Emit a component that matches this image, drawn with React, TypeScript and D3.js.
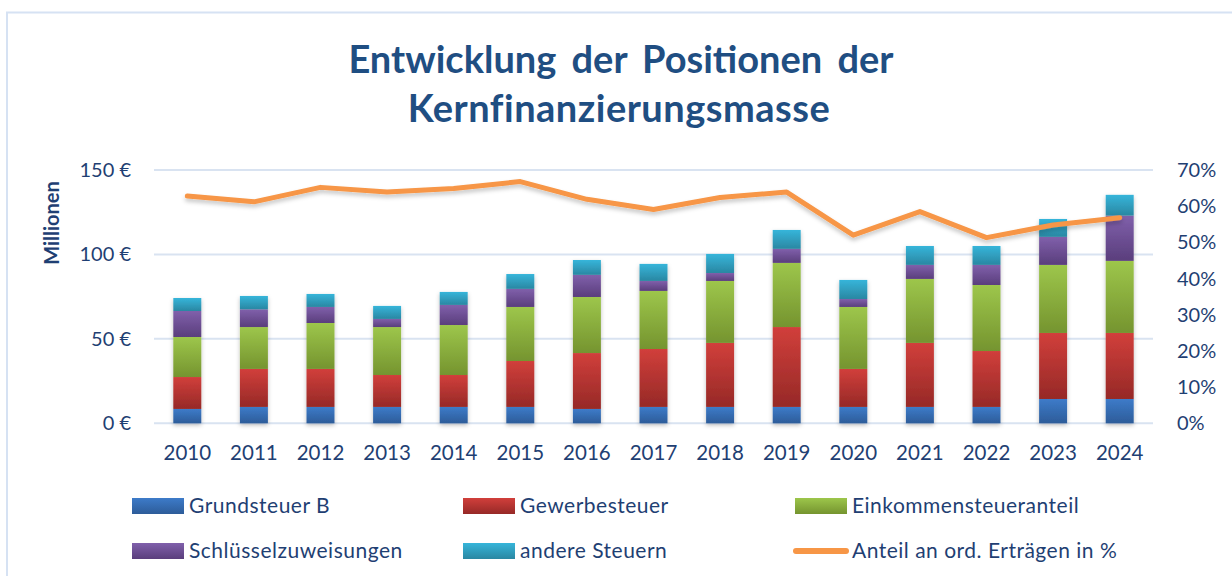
import React from "react";
import * as d3 from "d3";

const years = ["2010","2011","2012","2013","2014","2015","2016","2017","2018","2019","2020","2021","2022","2023","2024"];
const grundsteuerB = [8.5, 9.7, 9.7, 9.7, 9.7, 9.7, 8.5, 9.7, 9.7, 9.7, 9.7, 9.7, 9.7, 14.4, 14.4];
const gewerbesteuer = [18.9, 22.5, 22.5, 18.9, 18.9, 27.2, 33.1, 34.3, 37.9, 47.3, 22.5, 37.9, 33.1, 39.1, 39.1];
const einkommensteuer = [23.7, 24.8, 27.2, 28.4, 29.6, 32.0, 33.2, 34.4, 36.7, 38.0, 36.7, 37.9, 39.1, 40.3, 42.7];
const schluessel = [15.4, 10.5, 9.5, 4.8, 11.9, 10.7, 13.1, 5.9, 4.7, 8.3, 4.7, 8.3, 11.9, 16.6, 26.8];
const andere = [7.7, 7.9, 7.7, 7.7, 7.7, 8.8, 8.8, 10.1, 11.3, 11.2, 11.3, 11.2, 11.2, 10.6, 12.3];
const anteil = [0.628, 0.612, 0.652, 0.639, 0.649, 0.668, 0.619, 0.591, 0.624, 0.639, 0.520, 0.585, 0.513, 0.548, 0.568];

const leftTicks = [0, 50, 100, 150];
const rightTicks = [0, 0.1, 0.2, 0.3, 0.4, 0.5, 0.6, 0.7];

const seriesNames = ["Grundsteuer B", "Gewerbesteuer", "Einkommensteueranteil", "Schlüsselzuweisungen", "andere Steuern"];
const seriesData = [grundsteuerB, gewerbesteuer, einkommensteuer, schluessel, andere];
const seriesColors = [
  ["#3D7BC9", "#2D5C99"],
  ["#D13F3B", "#962927"],
  ["#9DC64B", "#75942F"],
  ["#8060AB", "#5A3E7C"],
  ["#36B5DA", "#2A87A2"],
];
const lineName = "Anteil an ord. Erträgen in %";
const lineColor = "#F79646";
const textColor = "#1F3F73";
const titleColor = "#1F4E82";
const gridColor = "#D9E3F1";
const font = "Lato, 'Open Sans', sans-serif";

export default function App() {
  const W = 1232, H = 576;
  const x = d3.scaleBand<string>().domain(years).range([154, 1153]).padding(0);
  const y = d3.scaleLinear().domain([0, 150]).range([423.3, 170]);
  const y2 = d3.scaleLinear().domain([0, 0.7]).range([423.3, 170]);
  const barW = x.bandwidth() * 0.42;

  const stackInput = years.map((yr, i) => {
    const o: any = { year: yr };
    seriesNames.forEach((n, k) => (o[n] = seriesData[k][i]));
    return o;
  });
  const stacked = d3.stack<any>().keys(seriesNames)(stackInput);

  const line = d3
    .line<number>()
    .x((_, i) => (x(years[i]) as number) + x.bandwidth() / 2)
    .y((d) => y2(d));

  const legendRows = [
    [
      { kind: "rect", idx: 0, x: 132, tx: 189 },
      { kind: "rect", idx: 1, x: 463, tx: 520 },
      { kind: "rect", idx: 2, x: 795, tx: 852 },
    ],
    [
      { kind: "rect", idx: 3, x: 132, tx: 189 },
      { kind: "rect", idx: 4, x: 463, tx: 520 },
      { kind: "line", idx: 5, x: 794, tx: 852 },
    ],
  ];
  const legendY = [506, 551];

  return (
    <svg width={W} height={H} style={{ position: "absolute", left: 0, top: 0, background: "#fff" }}>
      <defs>
        {seriesColors.map((c, k) => (
          <linearGradient key={k} id={`g${k}`} x1="0" y1="0" x2="0" y2="1">
            <stop offset="0%" stopColor={c[0]} />
            <stop offset="100%" stopColor={c[1]} />
          </linearGradient>
        ))}
        <filter id="shadow" x="-20%" y="-20%" width="140%" height="140%">
          <feDropShadow dx="0" dy="2" stdDeviation="2" floodColor="#000" floodOpacity="0.25" />
        </filter>
        <filter id="lshadow" x="-5%" y="-50%" width="110%" height="200%">
          <feDropShadow dx="0" dy="3" stdDeviation="2" floodColor="#000" floodOpacity="0.22" />
        </filter>
      </defs>
      <rect x={7} y={12.5} width={1300} height={700} fill="none" stroke="#D6E2F3" strokeWidth={2} />

      <text x={621} y={73} textAnchor="middle" fontFamily={font} fontWeight={700} fontSize={38} fill={titleColor} wordSpacing={6}>
        Entwicklung der Positionen der
      </text>
      <text x={619} y={122} textAnchor="middle" fontFamily={font} fontWeight={700} fontSize={38} fill={titleColor} letterSpacing={0.5}>
        Kernfinanzierungsmasse
      </text>

      {leftTicks.map((t) => (
        <g key={t}>
          <line x1={154} x2={1153} y1={y(t)} y2={y(t)} stroke={gridColor} strokeWidth={2} />
          <text x={131} y={y(t)} dy="0.35em" textAnchor="end" fontFamily={font} fontSize={20} fill={textColor}>
            {`${t} €`}
          </text>
        </g>
      ))}
      {rightTicks.map((t) => (
        <text key={t} x={1177} y={y2(t)} dy="0.35em" textAnchor="start" fontFamily={font} fontSize={20} fill={textColor}>
          {`${Math.round(t * 100)}%`}
        </text>
      ))}
      <text
        transform={`translate(59,223) rotate(-90)`}
        textAnchor="middle"
        fontFamily={font}
        fontWeight={700}
        fontSize={20}
        fill={textColor}
      >
        Millionen
      </text>

      <g filter="url(#shadow)">
        {stacked.map((s, k) =>
          s.map((d, i) => (
            <rect
              key={`${k}-${i}`}
              x={(x(years[i]) as number) + x.bandwidth() / 2 - barW / 2}
              y={y(d[1])}
              width={barW}
              height={y(d[0]) - y(d[1])}
              fill={`url(#g${k})`}
            />
          ))
        )}
      </g>

      <path
        d={line(anteil) || ""}
        fill="none"
        stroke={lineColor}
        strokeWidth={5}
        strokeLinejoin="round"
        strokeLinecap="round"
        filter="url(#lshadow)"
      />

      {years.map((yr) => (
        <text
          key={yr}
          x={(x(yr) as number) + x.bandwidth() / 2}
          y={453}
          dy="0.35em"
          textAnchor="middle"
          fontFamily={font}
          fontSize={20.5}
          fill={textColor}
        >
          {yr}
        </text>
      ))}

      {legendRows.map((row, r) =>
        row.map((it) => (
          <g key={`${r}-${it.idx}`}>
            {it.kind === "rect" ? (
              <rect x={it.x} y={legendY[r] - 8} width={52} height={16} fill={`url(#g${it.idx})`} />
            ) : (
              <line x1={it.x + 2} x2={it.x + 52} y1={legendY[r]} y2={legendY[r]} stroke={lineColor} strokeWidth={6} strokeLinecap="round" />
            )}
            <text x={it.tx} y={legendY[r]} dy="0.35em" fontFamily={font} fontSize={21} letterSpacing={0.5} fill={textColor}>
              {it.idx < 5 ? seriesNames[it.idx] : lineName}
            </text>
          </g>
        ))
      )}
    </svg>
  );
}
